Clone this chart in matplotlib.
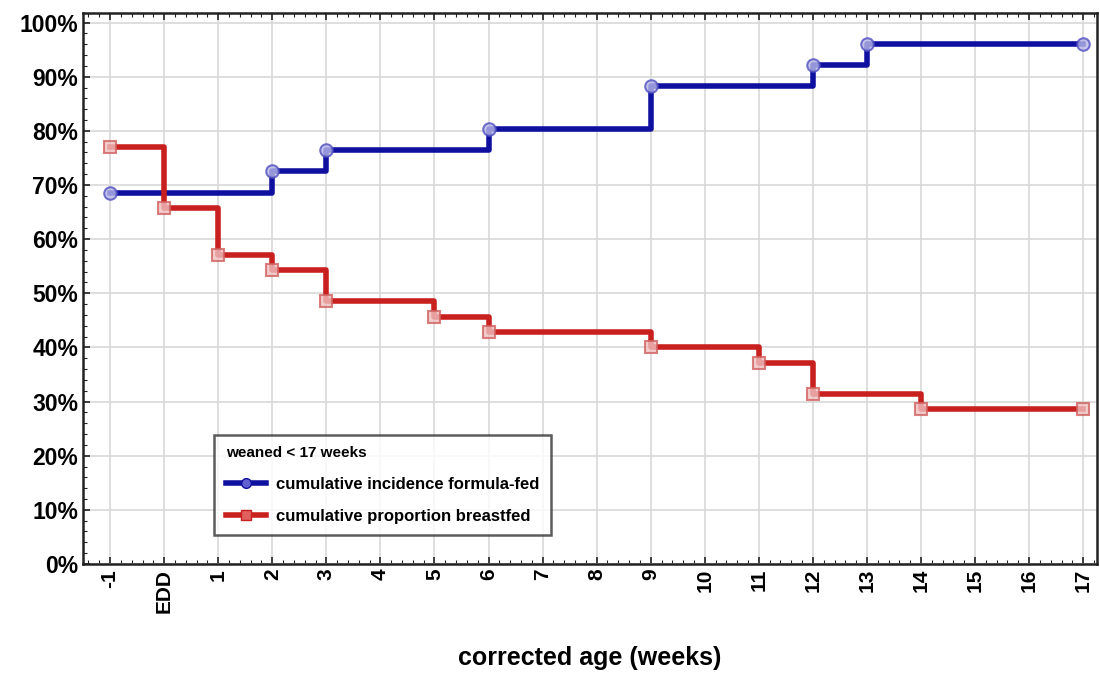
import matplotlib.pyplot as plt
from matplotlib.ticker import MultipleLocator, FuncFormatter

plt.rcParams['font.family'] = ['Liberation Sans', 'DejaVu Sans']
plt.rcParams['font.weight'] = 'bold'

weeks = [-1, 0, 1, 2, 3, 4, 5, 6, 7, 8, 9, 10, 11, 12, 13, 14, 15, 16, 17]
week_labels = ['-1', 'EDD'] + [str(w) for w in range(1, 18)]

formula_x = [-1, 2, 3, 6, 9, 12, 13, 17]
formula_y = [68.6, 72.5, 76.5, 80.4, 88.2, 92.2, 96.1, 96.1]

breast_x = [-1, 0, 1, 2, 3, 5, 6, 9, 11, 12, 14, 17]
breast_y = [77.1, 65.7, 57.1, 54.3, 48.6, 45.7, 42.9, 40.0, 37.1, 31.4, 28.6, 28.6]

blue = '#1010a0'
red = '#c8201e'

fig = plt.figure(figsize=(11, 6.73), dpi=100)
ax = fig.add_axes([0.0755, 0.162, 0.9215, 0.819])

ax.step(formula_x, formula_y, where='post', color=blue, lw=4,
        label='cumulative incidence formula-fed', zorder=3)
ax.plot(formula_x, formula_y, 'o', ms=9, mfc='#b8b8e8', mec='#5050c0',
        mew=1.5, alpha=0.8, zorder=4)
ax.step(breast_x, breast_y, where='post', color=red, lw=4,
        label='cumulative proportion breastfed', zorder=3)
ax.plot(breast_x, breast_y, 's', ms=9, mfc='#f0c0c0', mec='#d06060',
        mew=1.5, alpha=0.8, zorder=4)

# legend handles with marker in the middle
h1, = ax.plot([], [], color=blue, lw=4, marker='o', ms=7, mfc='#6060d0', mec=blue)
h2, = ax.plot([], [], color=red, lw=4, marker='s', ms=7, mfc='#e06060', mec=red)
leg = ax.legend([h1, h2], ['cumulative incidence formula-fed', 'cumulative proportion breastfed'],
                title='weaned < 17 weeks', loc='lower left', bbox_to_anchor=(0.121, 0.037),
                fontsize=12, title_fontsize=11, frameon=True, fancybox=False,
                edgecolor='#333333', handlelength=2.4, borderpad=0.7, labelspacing=1.0,
                handletextpad=0.6)
leg._legend_box.align = 'left'
leg.get_frame().set_linewidth(1.8)
leg.get_title().set_fontweight('bold')

ax.set_xlim(-1.5, 17.25)
ax.set_ylim(0, 101.8)
ax.set_xticks(weeks)
ax.set_xticklabels(week_labels, rotation=90, fontsize=15)
ax.xaxis.set_minor_locator(MultipleLocator(0.2))
ax.yaxis.set_major_locator(MultipleLocator(10))
ax.yaxis.set_minor_locator(MultipleLocator(2))
ax.yaxis.set_major_formatter(FuncFormatter(lambda v, p: f'{v:.0f}%'))
ax.tick_params(axis='y', labelsize=16.5)
ax.tick_params(which='both', direction='in', top=True, right=False, color='#222222')
ax.tick_params(which='major', length=5, width=1.2)
ax.tick_params(which='minor', length=3, width=0.8)
ax.grid(True, which='major', color='#d8d8d8', lw=1.2)
ax.set_axisbelow(True)
for s in ax.spines.values():
    s.set_linewidth(1.8)
    s.set_color('#222222')

ax.set_xlabel('corrected age (weeks)', fontsize=18, fontweight='bold', labelpad=24)

fig.savefig('out.png', dpi=100)
